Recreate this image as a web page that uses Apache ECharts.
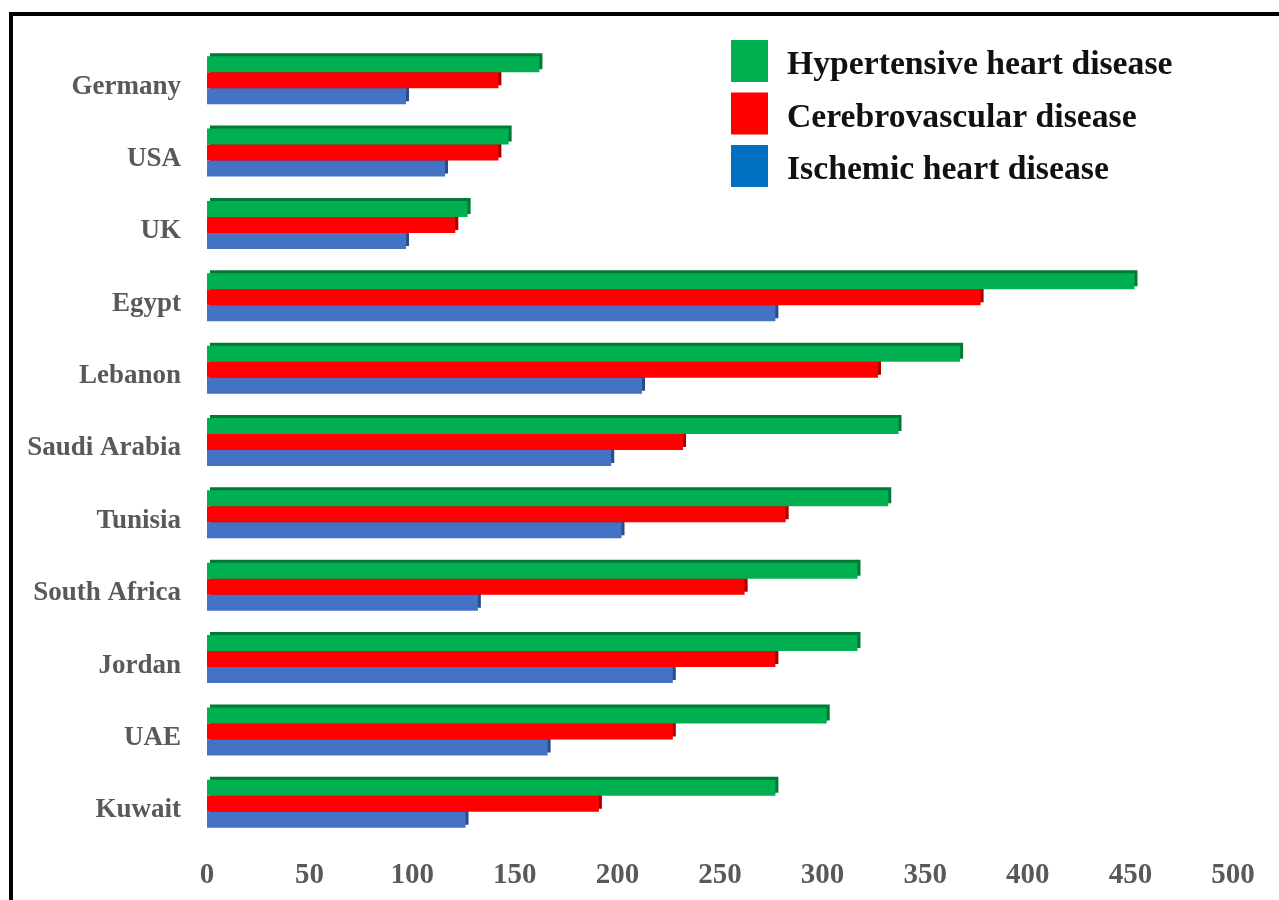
<!DOCTYPE html>
<html>
<head>
<meta charset="utf-8">
<script src="https://cdn.jsdelivr.net/npm/echarts@6/dist/echarts.min.js"></script>
<style>
  html, body { margin: 0; padding: 0; background: #fff; }
  #main { width: 1279px; height: 900px; }
  .frame {
    position: absolute; left: 9px; top: 12px; width: 1300px; height: 950px;
    border-left: 4px solid #000; border-top: 4px solid #000;
    pointer-events: none;
  }
</style>
</head>
<body>
<div id="main"></div>
<div class="frame"></div>
<script>
// countries, top to bottom
const countries = ["Germany", "USA", "UK", "Egypt", "Lebanon", "Saudi Arabia",
  "Tunisia", "South Africa", "Jordan", "UAE", "Kuwait"];
const hypertensive = [162, 147, 127, 452, 367, 337, 332, 317, 317, 302, 277];
const cerebrovascular = [142, 142, 121, 377, 327, 232, 282, 262, 277, 227, 191];
const ischemic = [97, 116, 97, 277, 212, 197, 202, 132, 227, 166, 126];
const xTicks = { min: 0, max: 500, interval: 50 };

const labelGray = "#595959";
const serif = "'Liberation Serif', 'DejaVu Serif', serif";

function barSeries(name, data, color, side, z) {
  return {
    type: "bar",
    name: name,
    data: data,
    z: z,
    barWidth: 16,
    barGap: "0%",
    itemStyle: {
      color: color,
      shadowColor: side,
      shadowBlur: 0,
      shadowOffsetX: 3,
      shadowOffsetY: -3,
    },
  };
}

const noShadow = { shadowColor: "transparent", shadowOffsetX: 0, shadowOffsetY: 0 };

let myChart = echarts.init(document.getElementById("main"));
myChart.setOption({
  animation: false,
  backgroundColor: "#fff",
  grid: { left: 207, right: 46, top: 44, bottom: 60 },
  legend: {
    orient: "vertical",
    left: 731,
    top: 40,
    padding: 0,
    itemWidth: 37,
    itemHeight: 42,
    itemGap: 10,
    icon: "rect",
    selectedMode: false,
    formatter: (name) => "{t|" + name + "}",
    textStyle: {
      rich: {
        t: {
          fontFamily: serif,
          fontWeight: "bold",
          fontSize: 33.7,
          color: "#111",
          padding: [9, 0, 0, 14],
        },
      },
    },
    data: [
      { name: "Hypertensive heart disease", itemStyle: Object.assign({ color: "#00B050" }, noShadow) },
      { name: "Cerebrovascular disease", itemStyle: Object.assign({ color: "#FF0000" }, noShadow) },
      { name: "Ischemic heart disease", itemStyle: Object.assign({ color: "#0070C0" }, noShadow) },
    ],
  },
  xAxis: {
    type: "value",
    min: xTicks.min,
    max: xTicks.max,
    interval: xTicks.interval,
    splitLine: { show: false },
    axisLine: { show: false },
    axisTick: { show: false },
    axisLabel: {
      margin: 21,
      color: labelGray,
      fontSize: 29,
      fontWeight: "bold",
      fontFamily: serif,
    },
  },
  yAxis: {
    type: "category",
    inverse: true,
    data: countries,
    axisLine: { show: false },
    axisTick: { show: false },
    axisLabel: {
      margin: 26,
      formatter: (v) => "{c|" + v + "}",
      rich: {
        c: {
          color: labelGray,
          fontSize: 27,
          fontWeight: "bold",
          fontFamily: serif,
          padding: [13, 0, 0, 0],
        },
      },
    },
  },
  series: [
    barSeries("Hypertensive heart disease", hypertensive, "#00B050", "#007A36", 4),
    barSeries("Cerebrovascular disease", cerebrovascular, "#FF0000", "#A80000", 3),
    barSeries("Ischemic heart disease", ischemic, "#4472C4", "#2B4C88", 2),
  ],
});
</script>
</body>
</html>
